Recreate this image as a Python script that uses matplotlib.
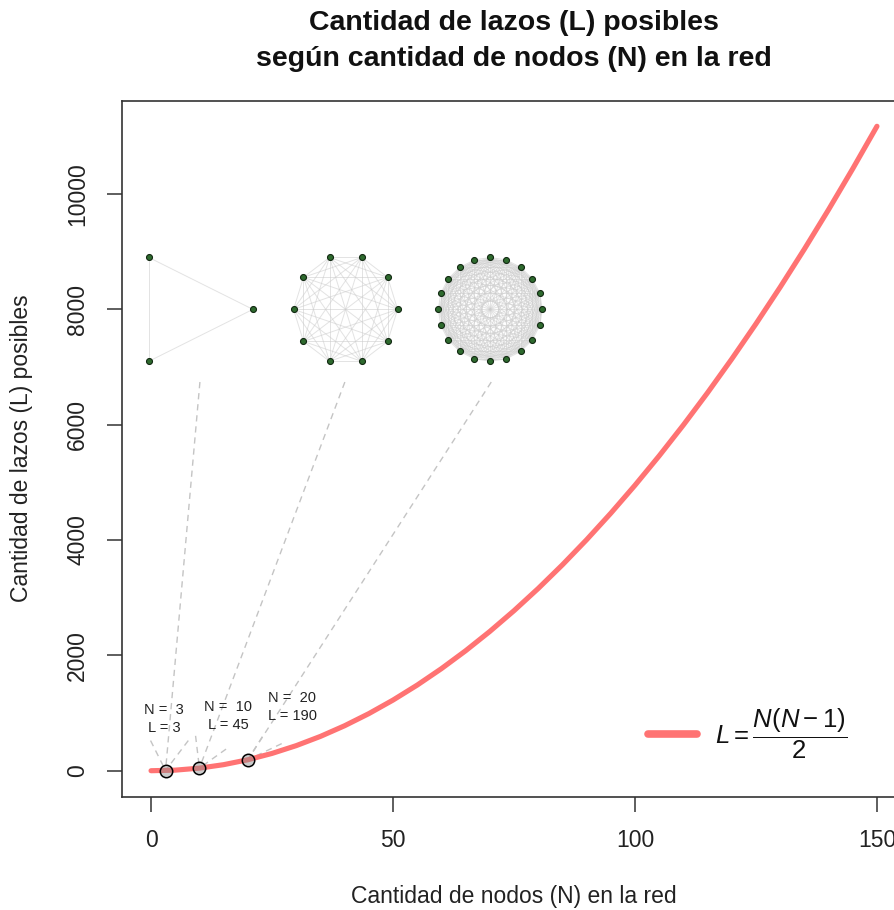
import numpy as np
import matplotlib
matplotlib.use("Agg")
import matplotlib.pyplot as plt
from matplotlib.collections import LineCollection

plt.rcParams['font.family'] = ['Liberation Sans', 'DejaVu Sans']
plt.rcParams['mathtext.fontset'] = 'custom'
plt.rcParams['mathtext.rm'] = 'Liberation Sans'
plt.rcParams['mathtext.it'] = 'Liberation Sans:italic'
plt.rcParams['mathtext.bf'] = 'Liberation Sans:bold'

# ---------------- data ----------------
N_curve = [0, 5, 10, 15, 20, 25, 30, 35, 40, 45, 50, 55, 60, 65, 70, 75,
           80, 85, 90, 95, 100, 105, 110, 115, 120, 125, 130, 135, 140, 145, 150]
L_curve = [0, 10, 45, 105, 190, 300, 435, 595, 780, 990, 1225, 1485, 1770, 2080,
           2415, 2775, 3160, 3570, 4005, 4465, 4950, 5460, 5995, 6555, 7140,
           7750, 8385, 9045, 9730, 10440, 11175]
N_points = [3, 10, 20]
L_points = [3, 45, 190]
point_labels = ["N =  3\nL = 3", "N =  10\nL = 45", "N =  20\nL = 190"]
x_ticks = [0, 50, 100, 150]
y_ticks = [0, 2000, 4000, 6000, 8000, 10000]

title = "Cantidad de lazos (L) posibles\nsegún cantidad de nodos (N) en la red"
xlabel = "Cantidad de nodos (N) en la red"
ylabel = "Cantidad de lazos (L) posibles"
legend_label = r"$L = \dfrac{N(N-1)}{2}$"

# ---------------- layout ----------------
inset_cx = [10.3, 40.2, 70.1]
inset_cy = 8000
inset_hw = 10.75
inset_hh = 900
connector_top_x = [10.1, 40.05, 70.3]
connector_top_y = 6740
label_pos = [(2.7, 900), (15.9, 950), (29.2, 1100)]
stubs = [[(-3.1, 520), (4.7, 520)],
         [(-0.8, 560), (5.5, 330)],
         [(3.0, 400), (7.0, 280)]]

red = '#ff7373'
dash_col = '#c4c4c4'

fig = plt.figure(figsize=(8.94, 9.10), dpi=100)
ax = fig.add_axes([122 / 894, (910 - 796.5) / 910, 784 / 894, 696 / 910])
ax.set_xlim(-6, 156)
ax.set_ylim(-447, 11622)

# network insets
for n, cx in zip(N_points, inset_cx):
    ang = 2 * np.pi * np.arange(n) / n
    px, py = np.cos(ang), np.sin(ang)
    px = (px - (px.max() + px.min()) / 2) / ((px.max() - px.min()) / 2)
    py = (py - (py.max() + py.min()) / 2) / ((py.max() - py.min()) / 2)
    X = cx + inset_hw * px
    Y = inset_cy + inset_hh * py
    segs = [[(X[i], Y[i]), (X[j], Y[j])] for i in range(n) for j in range(i + 1, n)]
    lc = LineCollection(segs, colors='#cccccc', linewidths=0.7, alpha=0.55, zorder=1)
    ax.add_collection(lc)
    ax.plot(X, Y, 'o', ms=4.3, mfc='#2e6a2e', mec='#122812', mew=0.8, ls='none', zorder=3)

# dashed connectors
for tx, xp, yp, st in zip(connector_top_x, N_points, L_points, stubs):
    ax.plot([tx, xp], [connector_top_y, yp], color=dash_col, lw=1.0,
            dashes=(4.5, 3.5), zorder=2)
    for dx, dy in st:
        ax.plot([xp + dx, xp], [yp + dy, yp], color=dash_col, lw=1.0,
                dashes=(4.5, 3.5), zorder=2)

# curve
ax.plot(N_curve, L_curve, color=red, lw=3.7, solid_capstyle='round', zorder=4)

# points
ax.scatter(N_points, L_points, s=80, facecolor=(0.55, 0.55, 0.55, 0.45),
           edgecolor='black', linewidths=1.1, zorder=5)

for (lx, ly), t in zip(label_pos, point_labels):
    ax.text(lx, ly, t, ha='center', va='center', fontsize=10.5, color='#222222',
            linespacing=1.35, zorder=6)

# legend (manual)
ax.plot([0.671, 0.733], [0.0898, 0.0898], transform=ax.transAxes, color=red,
        lw=5.5, solid_capstyle='round', clip_on=False, zorder=6)
ax.text(0.757, 0.0898, legend_label, transform=ax.transAxes, ha='left',
        va='center', fontsize=18.5, color='#111111')

# axes styling
for sp in ax.spines.values():
    sp.set_linewidth(1.2)
    sp.set_color('#333333')
ax.set_xticks(x_ticks)
ax.set_yticks(y_ticks)
ax.set_xticklabels([str(v) for v in x_ticks])
ax.set_yticklabels([str(v) for v in y_ticks], rotation=90, va='center')
ax.tick_params(axis='both', length=10.5, width=1.1, color='#333333',
               labelsize=16.5, labelcolor='#222222', pad=13)

fig.text(513.5 / 894, 1 - 897 / 910, xlabel, ha='center', va='center',
         fontsize=16.5, color='#222222')
fig.text(22 / 894, 1 - (100 + 696 / 2) / 910, ylabel, ha='center', va='center',
         rotation=90, fontsize=16.5, color='#222222')
fig.text(513.5 / 894, 1 - 41 / 910, title, ha='center', va='center',
         fontsize=20.5, fontweight='bold', linespacing=1.55, color='#111111')

fig.savefig('out.png', dpi=100)
